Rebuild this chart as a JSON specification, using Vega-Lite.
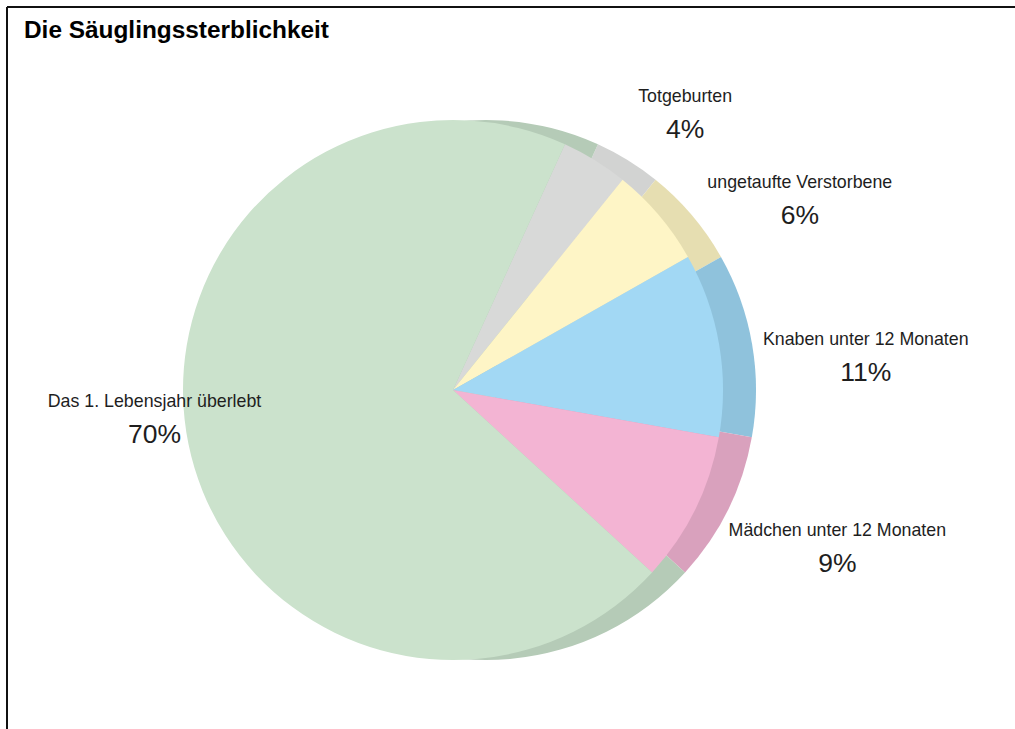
{
  "$schema": "https://vega.github.io/schema/vega-lite/v6.json",
  "width": 1015,
  "height": 729,
  "autosize": {"type": "none"},
  "padding": {"left": 7, "top": 7, "right": 0, "bottom": 0},
  "background": "white",
  "config": {"view": {"stroke": null}, "font": "Liberation Sans"},
  "title": {"text": "Die Säuglingssterblichkeit", "anchor": "start", "frame": "group", "fontSize": 24.4, "fontWeight": "bold", "font": "Liberation Sans", "color": "#000000", "offset": -56, "dx": 17, "baseline": "alphabetic"},
  "data": {"values": [
    {"label": "Totgeburten", "pct": "4%", "value": 4, "rank": 1},
    {"label": "ungetaufte Verstorbene", "pct": "6%", "value": 6, "rank": 2},
    {"label": "Knaben unter 12 Monaten", "pct": "11%", "value": 11, "rank": 3},
    {"label": "Mädchen unter 12 Monaten", "pct": "9%", "value": 9, "rank": 4},
    {"label": "Das 1. Lebensjahr überlebt", "pct": "70%", "value": 70, "rank": 5}
  ]},
  "layer": [
    {
      "mark": {"type": "rule", "strokeWidth": 2, "color": "#111111"},
      "encoding": {"x": {"datum": 0, "type": "quantitative", "scale": {"domain": [0, 1]}, "axis": null}}
    },
    {
      "mark": {"type": "rule", "strokeWidth": 2, "color": "#111111"},
      "encoding": {"y": {"datum": 1, "type": "quantitative", "scale": {"domain": [0, 1]}, "axis": null}}
    },
    {
      "mark": {"type": "arc", "outerRadius": 270, "xOffset": -28.5, "yOffset": 18.5},
      "encoding": {
        "theta": {"field": "value", "type": "quantitative", "stack": true, "scale": {"range": [0.4276, 6.7108]}},
        "order": {"field": "rank", "type": "quantitative"},
        "color": {"field": "label", "type": "nominal", "legend": null,
          "scale": {"domain": ["Totgeburten", "ungetaufte Verstorbene", "Knaben unter 12 Monaten", "Mädchen unter 12 Monaten", "Das 1. Lebensjahr überlebt"],
                    "range": ["#d2d3d2", "#e6deb1", "#8fc2dc", "#d9a1bd", "#b5cbb7"]}}
      }
    },
    {
      "mark": {"type": "arc", "outerRadius": 270, "xOffset": -61.5, "yOffset": 18.5},
      "encoding": {
        "theta": {"field": "value", "type": "quantitative", "stack": true, "scale": {"range": [0.4276, 6.7108]}},
        "order": {"field": "rank", "type": "quantitative"},
        "color": {"field": "label", "type": "nominal", "legend": null,
          "scale": {"domain": ["Totgeburten", "ungetaufte Verstorbene", "Knaben unter 12 Monaten", "Mädchen unter 12 Monaten", "Das 1. Lebensjahr überlebt"],
                    "range": ["#d8d9d8", "#fef5c6", "#a2d8f4", "#f3b4d3", "#cbe2cc"]}}
      }
    },
    {
      "mark": {"type": "text", "fontSize": 17.8, "baseline": "alphabetic", "align": "center", "dy": -13, "xOffset": -61.5, "yOffset": 18.5, "color": "#1e1e1e"},
      "encoding": {
        "theta": {"field": "value", "type": "quantitative", "stack": true,
          "scale": {"type": "linear", "zero": false, "nice": false, "domain": [2, 7, 15.5, 25.5, 65], "range": [0.7007, 1.0716, 1.4935, 1.9635, 4.612]}},
        "order": {"field": "rank", "type": "quantitative"},
        "detail": {"field": "label", "type": "nominal"},
        "radius": {"field": "value", "type": "quantitative", "legend": null,
          "scale": {"type": "linear", "zero": false, "nice": false, "domain": [4, 6, 9, 11, 70], "range": [360, 395, 416, 414, 300]}},
        "text": {"field": "label", "type": "nominal"}
      }
    },
    {
      "mark": {"type": "text", "fontSize": 26.5, "baseline": "alphabetic", "align": "center", "dy": 23, "xOffset": -61.5, "yOffset": 18.5, "color": "#1e1e1e"},
      "encoding": {
        "theta": {"field": "value", "type": "quantitative", "stack": true,
          "scale": {"type": "linear", "zero": false, "nice": false, "domain": [2, 7, 15.5, 25.5, 65], "range": [0.7007, 1.0716, 1.4935, 1.9635, 4.612]}},
        "order": {"field": "rank", "type": "quantitative"},
        "detail": {"field": "label", "type": "nominal"},
        "radius": {"field": "value", "type": "quantitative", "legend": null,
          "scale": {"type": "linear", "zero": false, "nice": false, "domain": [4, 6, 9, 11, 70], "range": [360, 395, 416, 414, 300]}},
        "text": {"field": "pct", "type": "nominal"}
      }
    }
  ],
  "resolve": {"scale": {"theta": "independent", "color": "independent", "radius": "independent", "x": "independent", "y": "independent"}}
}
